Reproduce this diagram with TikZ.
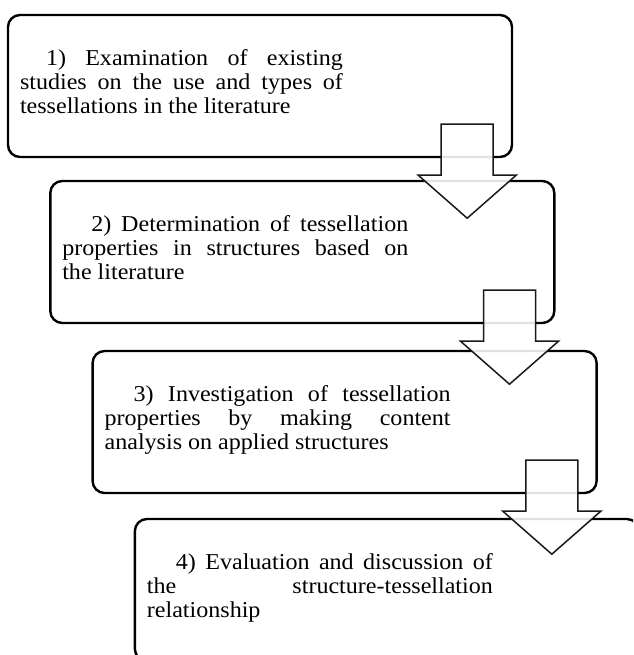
\documentclass[tikz,border=0pt]{standalone}
\usepackage{fontspec}
\setmainfont[FakeStretch=1.06]{Liberation Serif}
\usepackage{tikz}

\begin{document}
\begin{tikzpicture}[x=1pt,y=1pt,
    stepbox/.style={draw=black,line width=2.4pt,rounded corners=12pt,fill=white,
        minimum width=504pt,minimum height=142pt,inner sep=0pt},
    steptext/.style={anchor=north west,inner sep=0pt,align=justify,
        font=\fontsize{22.7pt}{24pt}\selectfont,
        execute at begin node={\tolerance=10000\hbadness=10000\hyphenpenalty=10000}},
    downarrow/.style={draw=black!90,line width=1.5pt,fill=white,fill opacity=0.88,
        draw opacity=1,line join=miter}]
    \useasboundingbox (0,0) rectangle (633,-655);
    \clip (0,0) rectangle (633,-655);
    \node[stepbox] (b1) at (260,-86) {};
    \node[stepbox] (b2) at (302.3,-252) {};
    \node[stepbox] (b3) at (344.6,-422) {};
    \node[stepbox] (b4) at (386.9,-590) {};
    \node[steptext,text width=323pt] (t1) at ([xshift=13pt,yshift=-35pt]b1.north west)
        {\strut\hspace*{26pt}1) Examination of existing\linebreak studies on the use and types of\linebreak tessellations in the literature};
    \node[steptext,text width=346pt] (t2) at ([xshift=13pt,yshift=-35pt]b2.north west)
        {\strut\hspace*{29pt}2) Determination of tessellation\linebreak properties in structures based on\linebreak the literature};
    \node[steptext,text width=346pt] (t3) at ([xshift=13pt,yshift=-35pt]b3.north west)
        {\strut\hspace*{29pt}3) Investigation of tessellation\linebreak properties by making content\linebreak analysis on applied structures};
    \node[steptext,text width=346pt] (t4) at ([xshift=13pt,yshift=-35pt]b4.north west)
        {\strut\hspace*{29pt}4) Evaluation and discussion of\linebreak the structure-tessellation\linebreak relationship};
    % hollow arrows between the steps
    \draw[downarrow] ([xshift=-72pt,yshift=34pt]b1.south east) -- ++(52,0) -- ++(0,-51) -- ++(23,0) -- ++(-49,-43) -- ++(-49,43) -- ++(23,0) -- cycle;
    \draw[downarrow] ([xshift=-72pt,yshift=34pt]b2.south east) -- ++(52,0) -- ++(0,-51) -- ++(23,0) -- ++(-49,-43) -- ++(-49,43) -- ++(23,0) -- cycle;
    \draw[downarrow] ([xshift=-72pt,yshift=34pt]b3.south east) -- ++(52,0) -- ++(0,-51) -- ++(23,0) -- ++(-49,-43) -- ++(-49,43) -- ++(23,0) -- cycle;
\end{tikzpicture}
\end{document}
